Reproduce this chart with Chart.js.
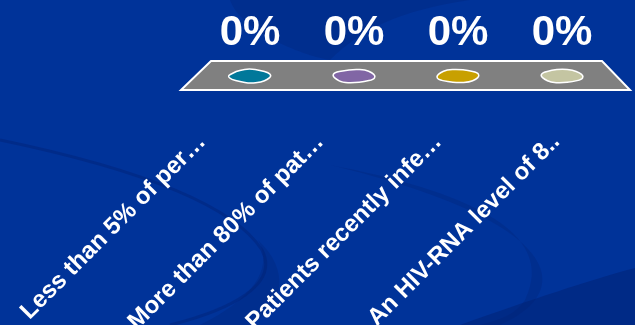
<!DOCTYPE html>
<html lang="en">
<head>
<meta charset="UTF-8">
<script src="https://cdn.jsdelivr.net/npm/chart.js@4.4.1/dist/chart.umd.min.js"></script>
<style>
    html, body {
        margin: 0;
        padding: 0;
        background: #003399;
        overflow: hidden;
    }

    .chart-box {
        position: relative;
        width: 635px;
        height: 325px;
    }
</style>
<title>Poll results</title>
</head>
<body>
<div class="chart-box"><canvas id="pollChart"></canvas></div>

<script>
    const categories = [
        'Less than 5% of per\u2026',
        'More than 80% of pat\u2026',
        'Patients recently infe\u2026',
        'An HIV-RNA level of 8..'
    ];
    const percentages = [0, 0, 0, 0];
    const blobColors = ['#00789A', '#8166A5', '#C8A000', '#C4C5A2'];

    // wobble factors give each flat "bar" its ragged blob outline
    const blobShapes = [
        [1.0, 0.95, 1.05, 1.1, 0.95, 1.0, 1.05, 0.9, 1.0, 1.08, 0.95, 1.0],
        [1.0, 1.05, 0.95, 1.0, 1.1, 0.95, 1.0, 1.05, 0.92, 1.0, 1.05, 0.97],
        [1.0, 0.97, 1.05, 1.0, 0.95, 1.08, 1.0, 0.95, 1.05, 1.0, 0.93, 1.04],
        [1.0, 1.06, 0.96, 1.02, 1.08, 0.94, 1.0, 1.04, 0.96, 1.06, 1.0, 0.95]
    ];

    function makeBlob(color, wobble) {
        const c = document.createElement('canvas');
        c.width = 50;
        c.height = 20;
        const g = c.getContext('2d');
        const n = wobble.length;
        const pts = [];
        for (let i = 0; i < n; i++) {
            const a = i / n * Math.PI * 2;
            pts.push([25 + Math.cos(a) * 21.5 * wobble[i], 10 + Math.sin(a) * 6.8 * wobble[i]]);
        }
        g.beginPath();
        for (let i = 0; i < n; i++) {
            const p = pts[i];
            const q = pts[(i + 1) % n];
            const mx = (p[0] + q[0]) / 2;
            const my = (p[1] + q[1]) / 2;
            if (i === 0) g.moveTo((pts[n - 1][0] + p[0]) / 2, (pts[n - 1][1] + p[1]) / 2);
            g.quadraticCurveTo(p[0], p[1], mx, my);
        }
        g.closePath();
        g.fillStyle = color;
        g.fill();
        g.lineWidth = 1.5;
        g.strokeStyle = '#ffffff';
        g.stroke();
        return c;
    }

    const blobs = blobColors.map((col, i) => makeBlob(col, blobShapes[i]));

    const slideBackground = {
        id: 'slideBackground',
        beforeDraw(chart) {
            const ctx = chart.ctx;
            const w = chart.width;
            const h = chart.height;
            ctx.save();
            ctx.fillStyle = '#003399';
            ctx.fillRect(0, 0, w, h);

            ctx.fillStyle = 'rgba(0, 30, 110, 0.25)';
            ctx.beginPath();
            ctx.moveTo(230, 0);
            ctx.bezierCurveTo(240, 30, 300, 55, 330, 60);
            ctx.bezierCurveTo(360, 30, 400, 10, 470, 0);
            ctx.closePath();
            ctx.fill();

            ctx.strokeStyle = 'rgba(0, 30, 110, 0.35)';
            ctx.lineWidth = 3;
            ctx.beginPath();
            ctx.moveTo(0, 140);
            ctx.bezierCurveTo(120, 165, 230, 200, 262, 250);
            ctx.bezierCurveTo(280, 285, 230, 310, 170, 325);
            ctx.stroke();

            ctx.fillStyle = 'rgba(0, 30, 110, 0.25)';
            ctx.beginPath();
            ctx.moveTo(200, 325);
            ctx.bezierCurveTo(250, 300, 275, 270, 258, 240);
            ctx.bezierCurveTo(290, 270, 285, 305, 250, 325);
            ctx.closePath();
            ctx.fill();

            ctx.beginPath();
            ctx.moveTo(330, 165);
            ctx.bezierCurveTo(460, 190, 560, 230, 525, 300);
            ctx.bezierCurveTo(515, 315, 500, 320, 480, 325);
            ctx.lineTo(500, 325);
            ctx.bezierCurveTo(580, 290, 560, 220, 330, 165);
            ctx.closePath();
            ctx.fill();

            ctx.fillStyle = 'rgba(0, 30, 110, 0.45)';
            ctx.beginPath();
            ctx.moveTo(460, 325);
            ctx.bezierCurveTo(530, 300, 590, 280, 635, 268);
            ctx.lineTo(635, 325);
            ctx.closePath();
            ctx.fill();
            ctx.restore();
        }
    };

    const floorPlate = {
        id: 'floorPlate',
        beforeDatasetsDraw(chart) {
            const ctx = chart.ctx;
            const { left, right } = chart.chartArea;
            const y0 = chart.scales.y.getPixelForValue(0);
            ctx.save();
            ctx.beginPath();
            ctx.moveTo(left + 13, y0 - 15);
            ctx.lineTo(right - 12, y0 - 15);
            ctx.lineTo(right + 16, y0 + 14);
            ctx.lineTo(left - 17, y0 + 14);
            ctx.closePath();
            ctx.fillStyle = '#808080';
            ctx.fill();
            ctx.lineWidth = 2;
            ctx.strokeStyle = '#ffffff';
            ctx.stroke();
            ctx.restore();
        }
    };

    const percentLabels = {
        id: 'percentLabels',
        afterDatasetsDraw(chart) {
            const ctx = chart.ctx;
            const meta = chart.getDatasetMeta(0);
            ctx.save();
            ctx.font = 'bold 42px "Liberation Sans", Arial, sans-serif';
            ctx.fillStyle = '#ffffff';
            ctx.textAlign = 'center';
            ctx.textBaseline = 'alphabetic';
            meta.data.forEach((pt, i) => {
                ctx.fillText(percentages[i] + '%', pt.x, pt.y - 31);
            });
            ctx.restore();
        }
    };

    new Chart(document.getElementById('pollChart'), {
        type: 'line',
        data: {
            labels: categories,
            datasets: [{
                data: percentages,
                showLine: false,
                clip: false,
                pointStyle: blobs,
                pointRadius: 10,
                pointHoverRadius: 10
            }]
        },
        options: {
            responsive: true,
            maintainAspectRatio: false,
            animation: false,
            events: [],
            layout: { padding: { left: 198, right: 21, top: 0, bottom: 0 } },
            plugins: {
                legend: { display: false },
                tooltip: { enabled: false }
            },
            scales: {
                x: { display: false, offset: true },
                y: { display: false, min: 0, max: 100 },
                names: {
                    type: 'linear',
                    position: 'bottom',
                    min: -0.034,
                    max: 3.491,
                    grid: { display: false },
                    border: { display: false },
                    afterBuildTicks: (scale) => {
                        scale.ticks = categories.map((_, i) => ({ value: i }));
                    },
                    afterFit: (scale) => {
                        scale.height = 249;
                        // labels are allowed to run past the plot edges, like the slide
                        scale.paddingLeft = 0;
                        scale.paddingRight = 0;
                    },
                    ticks: {
                        autoSkip: false,
                        includeBounds: false,
                        minRotation: 45,
                        maxRotation: 45,
                        padding: 44,
                        color: '#ffffff',
                        font: { family: '"Liberation Sans", Arial, sans-serif', size: 24, weight: 'bold' },
                        callback: (value) => categories[value]
                    }
                }
            }
        },
        plugins: [slideBackground, floorPlate, percentLabels]
    });
</script>
</body>
</html>
